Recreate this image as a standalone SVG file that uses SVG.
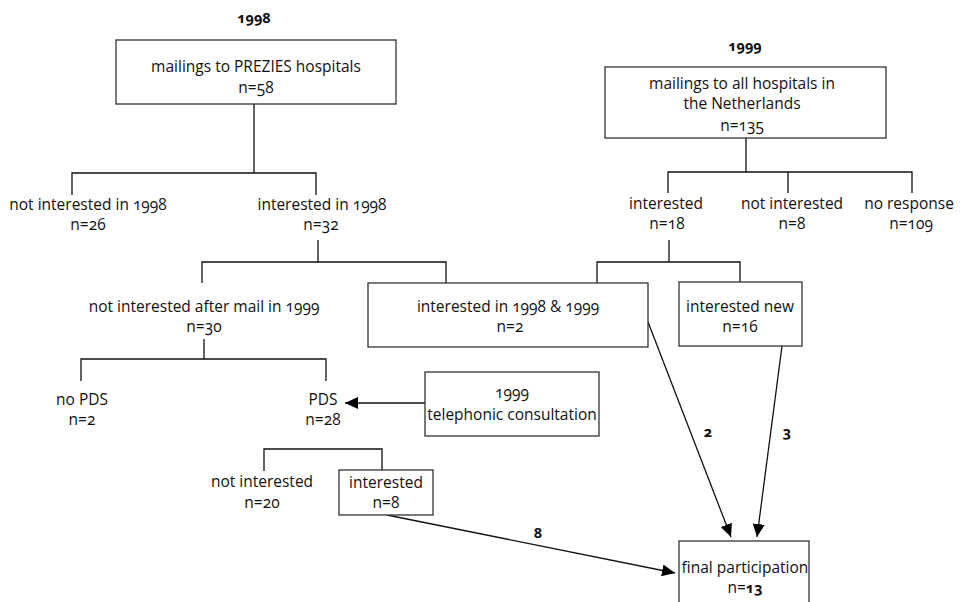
<svg xmlns="http://www.w3.org/2000/svg" width="960" height="602" viewBox="0 0 960 602">
<style>
text{font-family:"Open Sans","Liberation Sans",sans-serif;font-size:15.5px;fill:#111;text-anchor:middle;font-variant-numeric:oldstyle-nums;font-feature-settings:"onum" 1;}
.b{font-weight:bold;font-size:14.5px;}
.box{fill:#fff;stroke:#333;stroke-width:1.3;}
.ln{fill:none;stroke:#111;stroke-width:1.3;}
.ar{fill:none;stroke:#111;stroke-width:1.3;marker-end:url(#ah);}
</style>
<defs>
<marker id="ah" markerUnits="userSpaceOnUse" markerWidth="14" markerHeight="12" refX="13" refY="6" orient="auto">
<path d="M0,0 L13,6 L0,12 Z" fill="#000"/>
</marker>
</defs>
<rect width="960" height="602" fill="#fff"/>
<g id="connectors">
<path class="ln" d="M254,104 V173 M72,195 V173 H316 V195"/>
<path class="ln" d="M318,240 V262 M202,283 V262 H446 V283"/>
<path class="ln" d="M746,138 V172 M668,193 V172 H912 V193 M788,172 V193"/>
<path class="ln" d="M669,240 V262 M597,283 V262 H740 V282"/>
<path class="ln" d="M204,339 V359 M81,381 V359 H326 V381"/>
<path class="ln" d="M264,471 V449 H382 V470"/>
<path class="ar" d="M425,403 H345"/>
<path class="ar" d="M387,515 L675,573"/>
<path class="ar" d="M648,322 L731,537"/>
<path class="ar" d="M782,346 L757,537"/>
<text class="b" x="538" y="538">8</text>
<text class="b" x="708" y="437">2</text>
<text class="b" x="787" y="437">3</text>
</g>
<g id="year1998"><text class="b" x="254" y="23">1998</text></g>
<g id="year1999"><text class="b" x="745" y="51">1999</text></g>
<g id="mail1998">
<rect class="box" x="116" y="40" width="280" height="64"/>
<text x="256" y="72">mailings to PREZIES hospitals</text>
<text x="256" y="93">n=58</text>
</g>
<g id="mail1999">
<rect class="box" x="605" y="67" width="281" height="71"/>
<text x="742" y="89">mailings to all hospitals in</text>
<text x="742" y="109">the Netherlands</text>
<text x="742" y="131">n=135</text>
</g>
<g id="notint1998">
<text x="88" y="210">not interested in 1998</text>
<text x="88" y="230">n=26</text>
</g>
<g id="int1998">
<text x="322" y="210">interested in 1998</text>
<text x="321" y="230">n=32</text>
</g>
<g id="int1999">
<text x="666" y="209">interested</text>
<text x="667" y="229">n=18</text>
</g>
<g id="notint1999">
<text x="792" y="209">not interested</text>
<text x="792" y="229">n=8</text>
</g>
<g id="noresp">
<text x="909" y="209">no response</text>
<text x="911" y="229">n=109</text>
</g>
<g id="notintafter">
<text x="204" y="312">not interested after mail in 1999</text>
<text x="204" y="332">n=30</text>
</g>
<g id="intboth">
<rect class="box" x="368" y="283" width="280" height="64"/>
<text x="508" y="312">interested in 1998 &amp; 1999</text>
<text x="510" y="332">n=2</text>
</g>
<g id="intnew">
<rect class="box" x="679" y="282" width="123" height="64"/>
<text x="740" y="312">interested new</text>
<text x="740" y="332">n=16</text>
</g>
<g id="nopds">
<text x="82" y="405">no PDS</text>
<text x="82" y="425">n=2</text>
</g>
<g id="pds">
<text x="323" y="405">PDS</text>
<text x="323" y="425">n=28</text>
</g>
<g id="telephonic">
<rect class="box" x="425" y="372" width="174" height="64"/>
<text x="512" y="398">1999</text>
<text x="512" y="420">telephonic consultation</text>
</g>
<g id="notint20">
<text x="262" y="487">not interested</text>
<text x="262" y="508">n=20</text>
</g>
<g id="int8">
<rect class="box" x="339" y="470" width="94" height="45"/>
<text x="386" y="488">interested</text>
<text x="386" y="508">n=8</text>
</g>
<g id="final">
<rect class="box" x="679" y="541" width="130" height="66"/>
<text x="745" y="573">final participation</text>
<text x="745" y="593">n=<tspan class="b">13</tspan></text>
</g>
</svg>
